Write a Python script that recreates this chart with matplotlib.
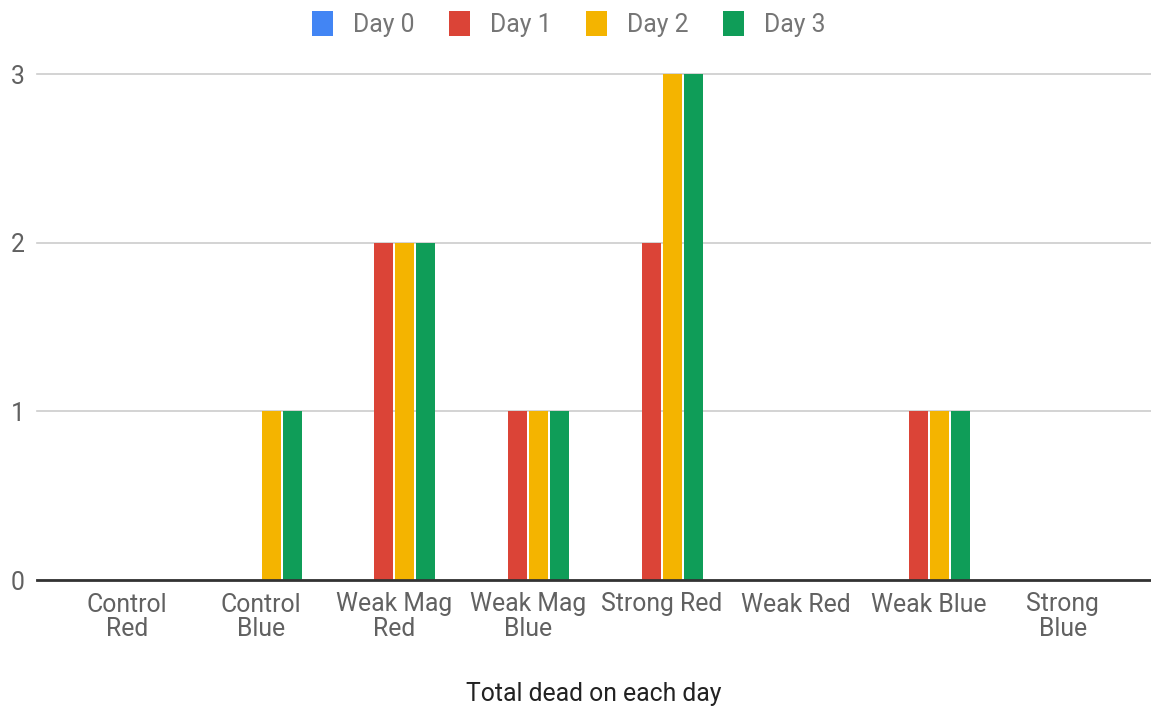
import matplotlib.pyplot as plt
import numpy as np
from matplotlib.patches import Patch

plt.rcParams['font.family'] = ['Roboto', 'DejaVu Sans']

groups = ['Control\nRed', 'Control\nBlue', 'Weak Mag\nRed', 'Weak Mag\nBlue',
          'Strong Red', 'Weak Red', 'Weak Blue', 'Strong\nBlue']
day_names = ['Day 0', 'Day 1', 'Day 2', 'Day 3']
day0 = [0, 0, 0, 0, 0, 0, 0, 0]
day1 = [0, 0, 2, 1, 2, 0, 1, 0]
day2 = [0, 1, 2, 1, 3, 0, 1, 0]
day3 = [0, 1, 2, 1, 3, 0, 1, 0]
colors = ['#4285f4', '#db4437', '#f4b400', '#0f9d58']

fig = plt.figure(figsize=(11.51, 7.08), dpi=100)
ax = fig.add_axes([37 / 1151, 1 - 580 / 708, 1 - 37 / 1151, (580 - 74) / 708])

x = np.arange(len(groups))
step = 0.157
width = 0.142
for i, (vals, color) in enumerate(zip([day0, day1, day2, day3], colors)):
    ax.bar(x + (i - 1.5) * step, vals, width=width, color=color, zorder=3)

ax.set_xlim(-0.673, 7.66)
ax.set_ylim(0, 3)
ax.set_yticks([0, 1, 2, 3])
ax.grid(axis='y', color='#cccccc', linewidth=1.2, zorder=0)
ax.set_axisbelow(True)
for side in ['top', 'right', 'left']:
    ax.spines[side].set_visible(False)
ax.spines['bottom'].set_color('#333333')
ax.spines['bottom'].set_linewidth(2)
ax.spines['bottom'].set_zorder(4)
for gl in ax.get_ygridlines():
    gl.set_clip_on(False)

fs = 17.8
ax.set_xticks(x)
ax.set_xticklabels(groups, fontsize=fs, color='#616161', linespacing=1.0)
ax.tick_params(axis='x', length=0, pad=9)
ax.tick_params(axis='y', length=0, pad=9, labelsize=fs, labelcolor='#616161')
ax.set_xlabel('Total dead on each day', fontsize=fs, color='#222222', labelpad=30)

handles = [Patch(facecolor=c, edgecolor='none') for c in colors]
fig.legend(handles, day_names, loc='center',
           bbox_to_anchor=(0.5 - 7 / 1151, 1 - 24 / 708),
           ncol=4, frameon=False, fontsize=fs, labelcolor='#757575',
           handlelength=0.85, handleheight=1.2, handletextpad=0.8, columnspacing=1.4)

fig.savefig('out.png', dpi=100)
